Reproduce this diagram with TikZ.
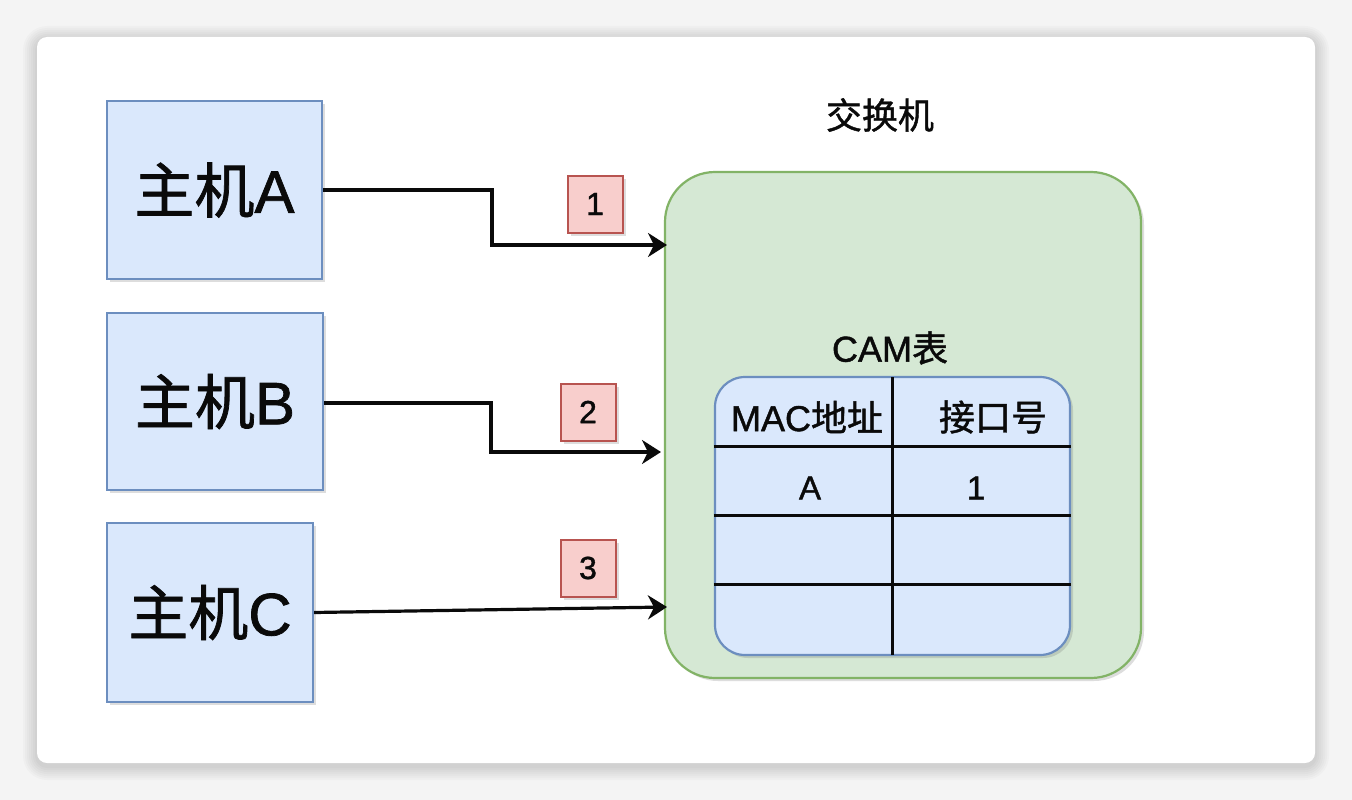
\documentclass[tikz,border=0pt]{standalone}
\usepackage{fontspec}
\setmainfont[RawFeature={embolden=1.2}]{Liberation Sans}
\newfontfamily\cjk[RawFeature={embolden=1.2}]{Noto Sans CJK SC}
\usetikzlibrary{arrows.meta,shadows,calc}
\definecolor{hostfill}{HTML}{DAE8FC}
\definecolor{hostdraw}{HTML}{6C8EBF}
\definecolor{swfill}{HTML}{D5E8D4}
\definecolor{swdraw}{HTML}{82B366}
\definecolor{labfill}{HTML}{F8CECC}
\definecolor{labdraw}{HTML}{B85450}
\definecolor{ink}{HTML}{0A0A0A}
\definecolor{pagebg}{HTML}{F4F4F4}
\tikzset{
  softshadow/.style={drop shadow={shadow xshift=3pt, shadow yshift=-3pt, opacity=0.22, fill=black!60}},
  host/.style={draw=hostdraw, fill=hostfill, line width=2.2pt, softshadow, inner sep=0pt,
    font=\fontsize{60}{70}\selectfont, text=ink},
  numlab/.style={draw=labdraw, fill=labfill, line width=2pt, softshadow, inner sep=0pt,
    minimum width=55pt, minimum height=57pt, font=\fontsize{32}{36}\selectfont, text=ink},
  switchbox/.style={draw=swdraw, fill=swfill, line width=2.2pt, rounded corners=50pt, softshadow, inner sep=0pt},
  title/.style={font=\fontsize{36}{42}\selectfont, text=ink, inner sep=0pt},
  cell/.style={font=\fontsize{36}{42}\selectfont, text=ink, inner sep=0pt},
  tabline/.style={draw=ink, line width=3pt},
  arr/.style={draw=ink, line width=3.2pt, -{Stealth[length=19pt,width=24pt,inset=6pt]}},
}
\begin{document}
\begin{tikzpicture}[x=1pt,y=-1pt]
% page and card
\fill[pagebg] (0,0) rectangle (1352,800);
\foreach \i in {14,12,...,2}{
  \fill[black, opacity=0.018, rounded corners={10pt+\i pt}] (37-\i,37-\i+3) rectangle (1315+\i,763+\i+3);
}
\fill[white, rounded corners=10pt] (37,37) rectangle (1315,763);
\useasboundingbox (0,0) rectangle (1352,800);

% hosts
\node[host, minimum width=215pt, minimum height=178pt] (hA) at (214.5,190) {{\cjk 主机}A};
\node[host, minimum width=216pt, minimum height=177pt] (hB) at (215,401.5) {{\cjk 主机}B};
\node[host, minimum width=206pt, minimum height=179pt] (hC) at (210,612.5) {{\cjk 主机}C};

% switch
\node[title] (swt) at (880,115) {\cjk 交换机};
\node[switchbox, minimum width=476pt, minimum height=506pt] (sw) at (903,425) {};
\node[title] (camt) at (890,348) {CAM{\cjk 表}};

% table
\node[draw=hostdraw, fill=hostfill, line width=2.2pt, rounded corners=30pt, softshadow, inner sep=0pt,
  minimum width=355pt, minimum height=278pt] (tab) at (892.5,516) {};
\coordinate (tT) at (892,377);
\coordinate (tB) at (892,655);
\draw[tabline] (tT) -- (tB);
\foreach \yy in {446,515,584}{
  \draw[tabline] (tab.west |- 0,\yy) -- (tab.east |- 0,\yy);
}
\node[cell] (c11) at (807,417) {MAC{\cjk 地址}};
\node[cell] (c12) at (993,417) {\cjk 接口号};
\node[cell, font=\fontsize{33}{38}\selectfont] (c21) at (810,488) {A};
\node[cell, font=\fontsize{33}{38}\selectfont] (c22) at (976,488) {1};

% number labels
\node[numlab] (n1) at (595,204) {1};
\node[numlab] (n2) at (588,412) {2};
\node[numlab] (n3) at (588,568) {3};

% connectors
\coordinate (kA1) at (492,190);
\coordinate (kA2) at (492,245);
\coordinate (eA) at (667,245);
\draw[arr] (hA.east) -- (kA1) -- (kA2) -- (eA);
\coordinate (kB1) at (491,403);
\coordinate (kB2) at (491,452);
\coordinate (eB) at (661,452);
\draw[arr] (hB.east |- kB1) -- (kB1) -- (kB2) -- (eB);
\coordinate (eC) at (667,607);
\draw[arr] (hC.east) -- (eC);
\end{tikzpicture}
\end{document}
